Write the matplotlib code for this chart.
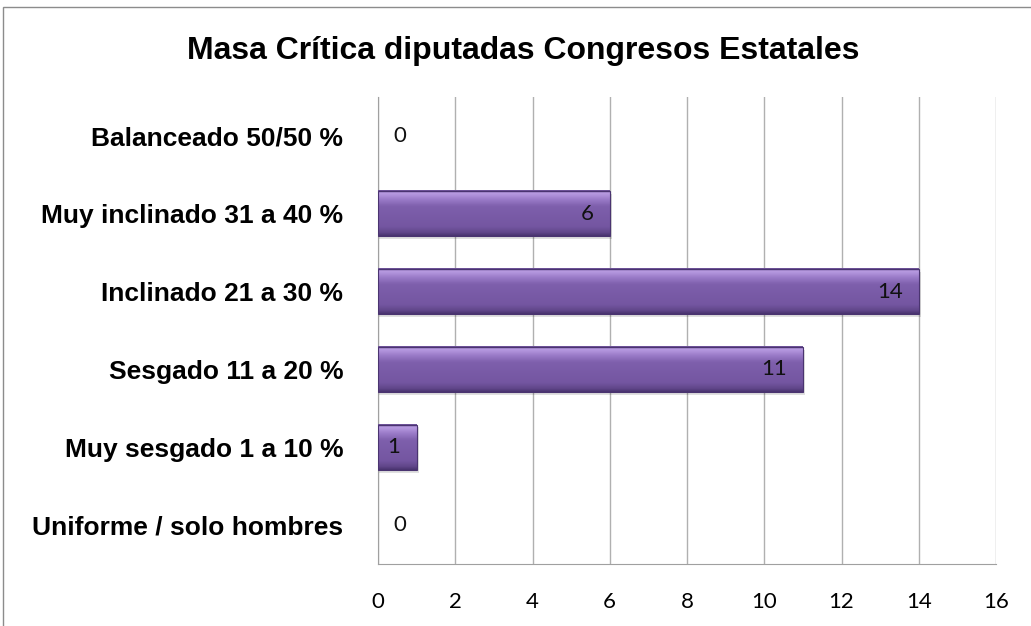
import matplotlib
matplotlib.use("Agg")
import numpy as np
import matplotlib.pyplot as plt
from matplotlib.patches import Rectangle
from matplotlib.colors import to_rgb

categories = ["Uniforme / solo hombres", "Muy sesgado 1 a 10 %", "Sesgado 11 a 20 %",
              "Inclinado 21 a 30 %", "Muy inclinado 31 a 40 %", "Balanceado 50/50 %"]
values = [0, 1, 11, 14, 6, 0]
xticks = [0, 2, 4, 6, 8, 10, 12, 14, 16]

W, H = 1031, 626
fig = plt.figure(figsize=(W / 100, H / 100), dpi=100)

# outer chart border (only top and left visible in the reference)
fig.patches.append(Rectangle((3 / W, -0.1), 1.2, (H - 7) / H + 0.1, transform=fig.transFigure,
                             fill=False, edgecolor="#8c8c8c", linewidth=1.0))

ax = fig.add_axes([378 / W, 62 / H, (996 - 378) / W, (564 - 97) / H])

# vertical shading for the bevelled bars (top -> bottom)
stops = [(0.0, "#6a4e94"), (0.06, "#b99ce2"), (0.2, "#9a7bc8"), (0.35, "#7e5fac"),
         (0.8, "#7456a1"), (0.93, "#604689"), (1.0, "#4a3470")]
pos = np.linspace(0, 1, 60)
cols = np.array([to_rgb(c) for _, c in stops])
grad = np.stack([np.interp(pos, [s for s, _ in stops], cols[:, k]) for k in range(3)], axis=-1)
grad = grad[:, None, :]

y = list(range(len(categories)))
h = 0.58
for yi, v in zip(y, values):
    if v <= 0:
        continue
    # soft shadow
    ax.barh(yi - 0.035, v + 0.06, height=h, color="#000000", alpha=0.12, linewidth=0, zorder=2)
    ax.imshow(grad, extent=(0, v, yi - h / 2, yi + h / 2), aspect="auto",
              interpolation="bilinear", zorder=3)
    ax.barh(yi, v, height=h, fill=False, edgecolor="#4a3470", linewidth=0.8, zorder=4)

for yi, v in zip(y, values):
    if v > 0:
        ax.text(v - 0.42, yi, str(v), ha="right", va="center", fontsize=16,
                family="Lato", color="#111111", zorder=5)
    else:
        ax.text(0.57, yi, str(v), ha="center", va="center", fontsize=16,
                family="Lato", color="#111111", zorder=5)

ax.set_xlim(0, 16)
ax.set_ylim(-0.5, len(categories) - 0.5)
ax.set_xticks(xticks)
ax.set_xticklabels([str(t) for t in xticks], fontsize=16, family="Lato")
ax.set_yticks(y)
ax.set_yticklabels(categories, fontsize=19, fontweight="bold", family="Liberation Sans")
ax.tick_params(axis="both", length=0)
ax.tick_params(axis="x", pad=20)
ax.tick_params(axis="y", pad=25)
ax.grid(axis="x", color="#b0b0b0", linewidth=1.0, zorder=0)
ax.grid(axis="y", visible=False)
ax.set_axisbelow(True)
for s in ["top", "right"]:
    ax.spines[s].set_visible(False)
for s in ["left", "bottom"]:
    ax.spines[s].set_color("#a0a0a0")

fig.text(523 / W, 1 - 59 / H, "Masa Crítica diputadas Congresos Estatales", ha="center", va="baseline",
         fontsize=23, fontweight="bold", family="Liberation Sans")

fig.savefig("out.png", dpi=100)
